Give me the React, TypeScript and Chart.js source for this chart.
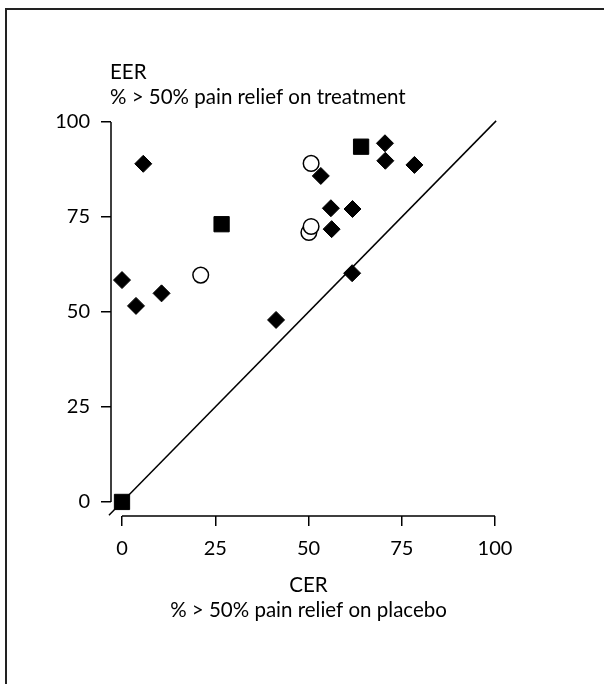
import React, { useEffect, useRef } from 'react';
import { Chart, registerables } from 'chart.js';

Chart.register(...registerables);

// Axis ticks (percent)
const X_TICKS = [0, 25, 50, 75, 100];
const Y_TICKS = [0, 25, 50, 75, 100];

// Filled diamonds: CER (placebo) vs EER (treatment)
const diamondCER = [0, 3.75, 5.7, 10.6, 41.3, 53.3, 56, 61.8, 56.2, 61.7, 70.5, 70.6, 78.4];
const diamondEER = [58.4, 51.6, 89, 54.9, 47.9, 85.8, 77.3, 77.1, 71.8, 60.2, 94.4, 89.8, 88.7];

// Filled squares
const squareCER = [0, 26.7, 64.1];
const squareEER = [0, 73.1, 93.5];

// Open circles
const circleCER = [21.1, 50.7, 50.1, 50.7];
const circleEER = [59.7, 89.1, 70.9, 72.5];

// Line of equality (EER = CER)
const equalityLine = [-3.5, 100.3];

const Y_TITLE = ['EER', '% > 50% pain relief on treatment'];
const X_TITLE = ['CER', '% > 50% pain relief on placebo'];

const FONT_FAMILY = 'Lato, "DejaVu Sans", sans-serif';
const INK = '#000';

const toPoints = (xs: number[], ys: number[]) => xs.map((x, i) => ({ x, y: ys[i] }));

// Axis lines spanning the tick range only, plus the axis titles
const axisDecor = {
  id: 'axisDecor',
  beforeDatasetsDraw(chart: any) {
    const { ctx, chartArea } = chart;
    const xs = chart.scales.x;
    const ys = chart.scales.y;
    ctx.save();
    ctx.strokeStyle = INK;
    ctx.lineWidth = 1.5;
    ctx.beginPath();
    ctx.moveTo(xs.getPixelForValue(X_TICKS[0]), chartArea.bottom);
    ctx.lineTo(xs.getPixelForValue(X_TICKS[X_TICKS.length - 1]), chartArea.bottom);
    ctx.moveTo(chartArea.left, ys.getPixelForValue(Y_TICKS[0]));
    ctx.lineTo(chartArea.left, ys.getPixelForValue(Y_TICKS[Y_TICKS.length - 1]));
    ctx.stroke();

    ctx.fillStyle = INK;
    ctx.font = `20.5px ${FONT_FAMILY}`;
    ctx.textBaseline = 'alphabetic';
    ctx.textAlign = 'left';
    ctx.fillText(Y_TITLE[0], chartArea.left - 1, chartArea.top - 43);
    ctx.fillText(Y_TITLE[1], chartArea.left - 1, chartArea.top - 18);

    const cx = xs.getPixelForValue(50);
    ctx.textAlign = 'center';
    ctx.fillText(X_TITLE[0], cx, chartArea.bottom + 76);
    ctx.fillText(X_TITLE[1], cx, chartArea.bottom + 101);
    ctx.restore();
  },
};

export default function App() {
  const canvasRef = useRef<HTMLCanvasElement | null>(null);

  useEffect(() => {
    const canvas = canvasRef.current;
    if (!canvas) return;

    const tickFont = { family: FONT_FAMILY, size: 20 };
    const grid = {
      display: true,
      drawOnChartArea: false,
      drawTicks: true,
      tickLength: 10,
      color: INK,
      lineWidth: 1.5,
    };

    const chart = new Chart(canvas, {
      type: 'scatter',
      data: {
        datasets: [
          {
            label: 'diamonds',
            data: toPoints(diamondCER, diamondEER),
            pointStyle: 'rectRot',
            pointRadius: 8.5,
            backgroundColor: INK,
            borderColor: INK,
            borderWidth: 1,
            clip: false,
          },
          {
            label: 'squares',
            data: toPoints(squareCER, squareEER),
            pointStyle: 'rect',
            pointRadius: 10.8,
            backgroundColor: INK,
            borderColor: INK,
            borderWidth: 1,
            clip: false,
          },
          {
            label: 'circles',
            data: toPoints(circleCER, circleEER),
            pointStyle: 'circle',
            pointRadius: 7.8,
            backgroundColor: '#fff',
            borderColor: INK,
            borderWidth: 1.5,
            clip: false,
          },
          {
            type: 'line',
            label: 'equality',
            data: toPoints(equalityLine, equalityLine),
            borderColor: INK,
            borderWidth: 1.5,
            pointRadius: 0,
            showLine: true,
            fill: false,
            clip: false,
          },
        ] as any,
      },
      options: {
        animation: false,
        responsive: false,
        events: [],
        layout: { padding: { top: 122, right: 109, bottom: 0, left: 0 } },
        plugins: {
          legend: { display: false },
          tooltip: { enabled: false },
          title: { display: false },
        },
        scales: {
          x: {
            type: 'linear',
            min: -2.95,
            max: 100,
            afterBuildTicks: (s: any) => {
              s.ticks = X_TICKS.map((value) => ({ value }));
            },
            afterFit: (s: any) => {
              s.height = 168;
            },
            grid,
            border: { display: false },
            ticks: { font: tickFont, color: INK, padding: 11, maxRotation: 0 },
          },
          y: {
            type: 'linear',
            min: -3.7,
            max: 100,
            afterBuildTicks: (s: any) => {
              s.ticks = Y_TICKS.map((value) => ({ value }));
            },
            afterFit: (s: any) => {
              s.width = 111;
            },
            grid,
            border: { display: false },
            ticks: { font: tickFont, color: INK, padding: 11 },
          },
        },
      } as any,
      plugins: [axisDecor],
    });

    return () => chart.destroy();
  }, []);

  return (
    <div style={{ position: 'fixed', left: 0, top: 0, width: 604, height: 684, background: '#fff' }}>
      <canvas ref={canvasRef} width={604} height={684} style={{ position: 'absolute', left: 0, top: 0 }} />
      <div
        style={{
          position: 'absolute',
          left: 5,
          top: 8,
          width: 599,
          height: 676,
          borderLeft: '2px solid #222',
          borderTop: '2px solid #222',
          boxSizing: 'border-box',
          pointerEvents: 'none',
        }}
      />
    </div>
  );
}
